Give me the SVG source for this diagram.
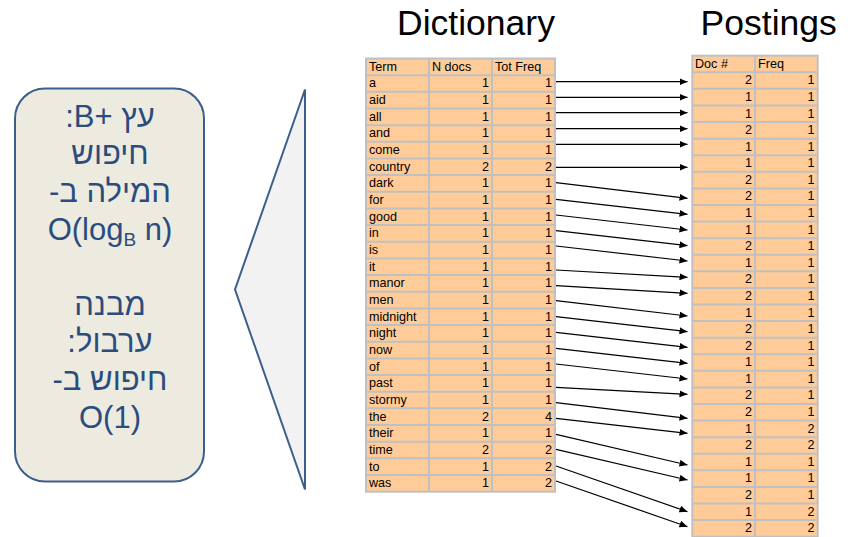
<svg xmlns="http://www.w3.org/2000/svg" width="853" height="537" viewBox="0 0 853 537">
<style>
.title{font-family:"Liberation Sans",Arial,sans-serif;font-size:35.5px;fill:#000;text-anchor:middle}
.t{font-family:"Liberation Sans",Arial,sans-serif;font-size:12.6px;fill:#000}
.n{font-family:"Liberation Sans",Arial,sans-serif;font-size:12.6px;fill:#000;text-anchor:end}
.tbl{fill:#FFCC99;stroke:#C0C0C0;stroke-width:2}
.grid{fill:none;stroke:#C0C0C0;stroke-width:2}
.he{font-family:"Liberation Sans","DejaVu Sans",sans-serif;font-size:31px;fill:#2B4C7E;text-anchor:middle}
.arr{stroke:#000;stroke-width:1.2;fill:none;marker-end:url(#ah)}
</style>
<defs>
<marker id="ah" viewBox="0 0 8 7" refX="8" refY="3.5" markerWidth="8" markerHeight="7" markerUnits="userSpaceOnUse" orient="auto">
<path d="M0,0 L8,3.5 L0,7 z" fill="#000"/>
</marker>
</defs>
<rect width="853" height="537" fill="#fff"/>

<g id="node-box">
<rect x="15" y="88.5" width="189" height="393" rx="30" ry="30" fill="#EDEBE0" stroke="#3C5E8C" stroke-width="2"/>
<text class="he" x="110" y="126.5" direction="rtl">עץ B+&#x200E;:</text>
<text class="he" x="110" y="164" direction="rtl">חיפוש</text>
<text class="he" x="110" y="201.5" direction="rtl">המילה ב-</text>
<text class="he" x="110" y="239.5" direction="ltr">O(log<tspan font-size="19" dy="6">B</tspan><tspan dy="-6"> n)</tspan></text>
<text class="he" x="110" y="314.5" direction="rtl">מבנה</text>
<text class="he" x="110" y="352" direction="rtl">ערבול:</text>
<text class="he" x="110" y="389.5" direction="rtl">חיפוש ב-</text>
<text class="he" x="110" y="427.5" direction="ltr">O(1)</text>
</g>

<g id="node-triangle">
<polygon points="305,89.5 235,289.5 305,489.5" fill="#F2F2F2" stroke="#3C5E8C" stroke-width="2" stroke-linejoin="miter"/>
</g>

<g id="node-dictionary">
<text class="title" x="476" y="35">Dictionary</text>
<rect class="tbl" x="366" y="58.5" width="189" height="433.2"/>
<path class="grid" d="M429,58.5V491.7M492,58.5V491.7M366,75.16H555M366,91.82H555M366,108.48H555M366,125.14H555M366,141.8H555M366,158.46H555M366,175.12H555M366,191.78H555M366,208.44H555M366,225.1H555M366,241.76H555M366,258.42H555M366,275.08H555M366,291.74H555M366,308.4H555M366,325.06H555M366,341.72H555M366,358.38H555M366,375.04H555M366,391.7H555M366,408.36H555M366,425.02H555M366,441.68H555M366,458.34H555M366,475H555"/>
<text class="t" x="369" y="70.7">Term</text><text class="t" x="432" y="70.7">N docs</text><text class="t" x="495" y="70.7">Tot Freq</text>
<text class="t" x="369" y="87.4">a</text><text class="n" x="489" y="87.4">1</text><text class="n" x="552" y="87.4">1</text>
<text class="t" x="369" y="104">aid</text><text class="n" x="489" y="104">1</text><text class="n" x="552" y="104">1</text>
<text class="t" x="369" y="120.7">all</text><text class="n" x="489" y="120.7">1</text><text class="n" x="552" y="120.7">1</text>
<text class="t" x="369" y="137.3">and</text><text class="n" x="489" y="137.3">1</text><text class="n" x="552" y="137.3">1</text>
<text class="t" x="369" y="154">come</text><text class="n" x="489" y="154">1</text><text class="n" x="552" y="154">1</text>
<text class="t" x="369" y="170.7">country</text><text class="n" x="489" y="170.7">2</text><text class="n" x="552" y="170.7">2</text>
<text class="t" x="369" y="187.3">dark</text><text class="n" x="489" y="187.3">1</text><text class="n" x="552" y="187.3">1</text>
<text class="t" x="369" y="204">for</text><text class="n" x="489" y="204">1</text><text class="n" x="552" y="204">1</text>
<text class="t" x="369" y="220.6">good</text><text class="n" x="489" y="220.6">1</text><text class="n" x="552" y="220.6">1</text>
<text class="t" x="369" y="237.3">in</text><text class="n" x="489" y="237.3">1</text><text class="n" x="552" y="237.3">1</text>
<text class="t" x="369" y="254">is</text><text class="n" x="489" y="254">1</text><text class="n" x="552" y="254">1</text>
<text class="t" x="369" y="270.6">it</text><text class="n" x="489" y="270.6">1</text><text class="n" x="552" y="270.6">1</text>
<text class="t" x="369" y="287.3">manor</text><text class="n" x="489" y="287.3">1</text><text class="n" x="552" y="287.3">1</text>
<text class="t" x="369" y="303.9">men</text><text class="n" x="489" y="303.9">1</text><text class="n" x="552" y="303.9">1</text>
<text class="t" x="369" y="320.6">midnight</text><text class="n" x="489" y="320.6">1</text><text class="n" x="552" y="320.6">1</text>
<text class="t" x="369" y="337.3">night</text><text class="n" x="489" y="337.3">1</text><text class="n" x="552" y="337.3">1</text>
<text class="t" x="369" y="353.9">now</text><text class="n" x="489" y="353.9">1</text><text class="n" x="552" y="353.9">1</text>
<text class="t" x="369" y="370.6">of</text><text class="n" x="489" y="370.6">1</text><text class="n" x="552" y="370.6">1</text>
<text class="t" x="369" y="387.2">past</text><text class="n" x="489" y="387.2">1</text><text class="n" x="552" y="387.2">1</text>
<text class="t" x="369" y="403.9">stormy</text><text class="n" x="489" y="403.9">1</text><text class="n" x="552" y="403.9">1</text>
<text class="t" x="369" y="420.6">the</text><text class="n" x="489" y="420.6">2</text><text class="n" x="552" y="420.6">4</text>
<text class="t" x="369" y="437.2">their</text><text class="n" x="489" y="437.2">1</text><text class="n" x="552" y="437.2">1</text>
<text class="t" x="369" y="453.9">time</text><text class="n" x="489" y="453.9">2</text><text class="n" x="552" y="453.9">2</text>
<text class="t" x="369" y="470.5">to</text><text class="n" x="489" y="470.5">1</text><text class="n" x="552" y="470.5">2</text>
<text class="t" x="369" y="487.2">was</text><text class="n" x="489" y="487.2">1</text><text class="n" x="552" y="487.2">2</text>
</g>

<g id="node-postings">
<text class="title" x="768.7" y="35">Postings</text>
<rect class="tbl" x="692.3" y="55.7" width="125.4" height="481"/>
<path class="grid" d="M755,55.7V536.7M692.3,72.29H817.7M692.3,88.87H817.7M692.3,105.46H817.7M692.3,122.04H817.7M692.3,138.63H817.7M692.3,155.22H817.7M692.3,171.8H817.7M692.3,188.39H817.7M692.3,204.97H817.7M692.3,221.56H817.7M692.3,238.15H817.7M692.3,254.73H817.7M692.3,271.32H817.7M692.3,287.9H817.7M692.3,304.49H817.7M692.3,321.08H817.7M692.3,337.66H817.7M692.3,354.25H817.7M692.3,370.83H817.7M692.3,387.42H817.7M692.3,404.01H817.7M692.3,420.59H817.7M692.3,437.18H817.7M692.3,453.76H817.7M692.3,470.35H817.7M692.3,486.94H817.7M692.3,503.52H817.7M692.3,520.11H817.7"/>
<text class="t" x="695" y="67.7">Doc #</text><text class="t" x="758" y="67.7">Freq</text>
<text class="n" x="752" y="84.3">2</text><text class="n" x="814.5" y="84.3">1</text>
<text class="n" x="752" y="100.9">1</text><text class="n" x="814.5" y="100.9">1</text>
<text class="n" x="752" y="117.5">1</text><text class="n" x="814.5" y="117.5">1</text>
<text class="n" x="752" y="134">2</text><text class="n" x="814.5" y="134">1</text>
<text class="n" x="752" y="150.6">1</text><text class="n" x="814.5" y="150.6">1</text>
<text class="n" x="752" y="167.2">1</text><text class="n" x="814.5" y="167.2">1</text>
<text class="n" x="752" y="183.8">2</text><text class="n" x="814.5" y="183.8">1</text>
<text class="n" x="752" y="200.4">2</text><text class="n" x="814.5" y="200.4">1</text>
<text class="n" x="752" y="217">1</text><text class="n" x="814.5" y="217">1</text>
<text class="n" x="752" y="233.6">1</text><text class="n" x="814.5" y="233.6">1</text>
<text class="n" x="752" y="250.2">2</text><text class="n" x="814.5" y="250.2">1</text>
<text class="n" x="752" y="266.7">1</text><text class="n" x="814.5" y="266.7">1</text>
<text class="n" x="752" y="283.3">2</text><text class="n" x="814.5" y="283.3">1</text>
<text class="n" x="752" y="299.9">2</text><text class="n" x="814.5" y="299.9">1</text>
<text class="n" x="752" y="316.5">1</text><text class="n" x="814.5" y="316.5">1</text>
<text class="n" x="752" y="333.1">2</text><text class="n" x="814.5" y="333.1">1</text>
<text class="n" x="752" y="349.7">2</text><text class="n" x="814.5" y="349.7">1</text>
<text class="n" x="752" y="366.3">1</text><text class="n" x="814.5" y="366.3">1</text>
<text class="n" x="752" y="382.8">1</text><text class="n" x="814.5" y="382.8">1</text>
<text class="n" x="752" y="399.4">2</text><text class="n" x="814.5" y="399.4">1</text>
<text class="n" x="752" y="416">2</text><text class="n" x="814.5" y="416">1</text>
<text class="n" x="752" y="432.6">1</text><text class="n" x="814.5" y="432.6">2</text>
<text class="n" x="752" y="449.2">2</text><text class="n" x="814.5" y="449.2">2</text>
<text class="n" x="752" y="465.8">1</text><text class="n" x="814.5" y="465.8">1</text>
<text class="n" x="752" y="482.4">1</text><text class="n" x="814.5" y="482.4">1</text>
<text class="n" x="752" y="498.9">2</text><text class="n" x="814.5" y="498.9">1</text>
<text class="n" x="752" y="515.5">1</text><text class="n" x="814.5" y="515.5">2</text>
<text class="n" x="752" y="532.1">2</text><text class="n" x="814.5" y="532.1">2</text>
</g>

<g id="connectors">
<line class="arr" x1="556" y1="81.7" x2="687.5" y2="81.7"/>
<line class="arr" x1="556" y1="97.3" x2="687.5" y2="97.3"/>
<line class="arr" x1="556" y1="112.7" x2="687.5" y2="112.7"/>
<line class="arr" x1="556" y1="128.7" x2="687.5" y2="128.7"/>
<line class="arr" x1="556" y1="144.3" x2="687.5" y2="144.3"/>
<line class="arr" x1="556" y1="167.3" x2="687.5" y2="167.3"/>
<line class="arr" x1="556" y1="182.7" x2="687.5" y2="198.3"/>
<line class="arr" x1="556" y1="199.3" x2="687.5" y2="214.3"/>
<line class="arr" x1="556" y1="215" x2="687.5" y2="230"/>
<line class="arr" x1="556" y1="230.7" x2="687.5" y2="245.7"/>
<line class="arr" x1="556" y1="246" x2="687.5" y2="261"/>
<line class="arr" x1="556" y1="270" x2="687.5" y2="277.3"/>
<line class="arr" x1="556" y1="285.7" x2="687.5" y2="293.3"/>
<line class="arr" x1="556" y1="300.7" x2="687.5" y2="316"/>
<line class="arr" x1="556" y1="316.7" x2="687.5" y2="331.7"/>
<line class="arr" x1="556" y1="332.3" x2="687.5" y2="347.3"/>
<line class="arr" x1="556" y1="348.3" x2="687.5" y2="363.3"/>
<line class="arr" x1="556" y1="364" x2="687.5" y2="379"/>
<line class="arr" x1="556" y1="387.3" x2="687.5" y2="394.3"/>
<line class="arr" x1="556" y1="402.7" x2="687.5" y2="418.3"/>
<line class="arr" x1="556" y1="418.3" x2="687.5" y2="433.3"/>
<line class="arr" x1="556" y1="434.3" x2="687.5" y2="465"/>
<line class="arr" x1="556" y1="449.3" x2="687.5" y2="480"/>
<line class="arr" x1="556" y1="466" x2="687.5" y2="511.7"/>
<line class="arr" x1="556" y1="481" x2="687.5" y2="526.7"/>
</g>
</svg>
